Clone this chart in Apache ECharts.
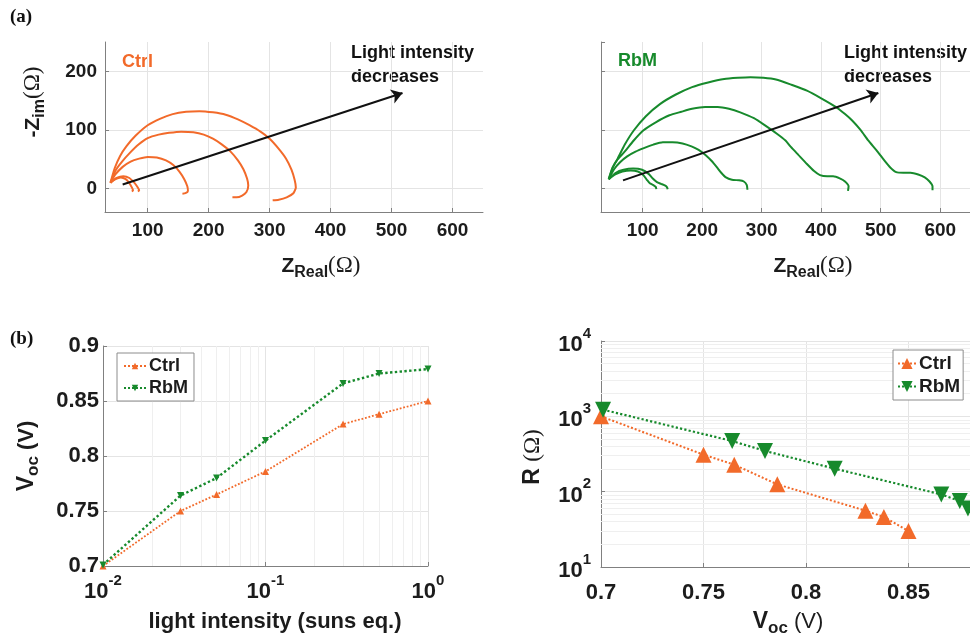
<!DOCTYPE html>
<html lang="en">
<head>
<meta charset="UTF-8">
<title>Nyquist / Voc / R</title>
<script src="https://cdn.jsdelivr.net/npm/echarts@6/dist/echarts.min.js"></script>
<style>
    html, body { margin: 0; padding: 0; background: #fff; }
    #chart { width: 970px; height: 639px; }
</style>
</head>
<body>
<div id="chart"></div>
<script>
    // (a) Nyquist curves, [Z_real, -Z_im] in ohm
    var ctrlZ1 = [[39,10],[47,16],[56,19],[64,16],[70,9],[74,2],[76,-3],[74,-5]];
    var ctrlZ2 = [[39,10],[49,18],[60,21],[70,18],[78,10],[83,3],[86,-3],[84,-5]];
    var ctrlZ3 = [[39,10],[47,24],[59,37],[72,46],[86,51],[100,54],[115,53],[130,48],[142,40],[152,29],[160,16],[165,4],[166,-4],[162,-8],[157,-9]];
    var ctrlZ4 = [[39,10],[48,32],[58,46],[70,60],[85,75],[100,86],[118,92],[135,95],[155,97],[175,96],[192,92],[207,85],[222,75],[236,63],[248,48],[257,33],[263,17],[265,5],[262,-6],[255,-12],[246,-15],[239,-15]];
    var ctrlZ5 = [[39,10],[46,35],[55,56],[65,72],[80,90],[100,108],[120,119],[141,127],[163,131],[185,132],[207,130],[228,126],[248,118],[267,108],[285,97],[300,85],[314,69],[327,51],[336,32],[341,15],[343,2],[339,-8],[328,-15],[315,-19],[305,-20]];

    var rbmZ1 = [[43,16],[54,24],[66,29],[80,31],[92,29],[101,23],[107,15],[112,9],[118,6],[122,3],[123,-1]];
    var rbmZ2 = [[43,16],[55,27],[68,32],[84,34],[99,32],[110,25],[117,17],[124,11],[131,8],[138,5],[141,2],[142,-1]];
    var rbmZ3 = [[43,16],[52,33],[62,45],[74,55],[88,63],[102,69],[118,75],[134,79],[150,79],[167,77],[182,72],[194,66],[206,57],[216,47],[225,36],[232,27],[240,19],[250,15],[262,14],[270,12],[275,6],[276,-2]];
    var rbmZ4 = [[43,16],[50,36],[58,50],[69,62],[85,82],[101,99],[122,113],[145,125],[165,131],[183,136],[205,139],[226,139],[245,136],[264,130],[287,120],[308,106],[325,94],[340,82],[349,71],[362,57],[376,42],[388,30],[398,23],[410,21],[420,21],[432,17],[440,12],[446,4],[445,-4]];
    var rbmZ5 = [[43,16],[49,35],[58,51],[70,75],[85,99],[105,123],[129,144],[155,160],[183,173],[210,181],[237,187],[260,189],[281,190],[303,189],[324,186],[350,177],[376,167],[400,154],[425,139],[440,127],[452,116],[466,100],[479,82],[493,65],[506,48],[516,36],[526,28],[538,27],[550,27],[563,24],[574,19],[582,12],[587,4],[587,-3]];

    // "Light intensity decreases" arrows (start, end)
    var ctrlArrow = [[59,7],[518,163]];
    var rbmArrow = [[67,14],[496,163]];

    // (b) light intensity (suns eq.), Voc (V), R (ohm)
    var intensity = [0.01, 0.03, 0.05, 0.1, 0.3, 0.5, 1];
    var vocCtrl = [0.700, 0.750, 0.765, 0.786, 0.829, 0.838, 0.850];
    var vocRbM = [0.701, 0.764, 0.780, 0.814, 0.866, 0.875, 0.879];
    var rCtrl = [1000, 310, 228, 125, 56, 46, 30];
    var rRbM = [1225, 470, 347, 202, 92, 75, 60];

    // minor grid positions of the log axes
    var minorIntensity = [0.02,0.03,0.04,0.05,0.06,0.07,0.08,0.09,0.2,0.3,0.4,0.5,0.6,0.7,0.8,0.9];
    var minorR = [20,30,40,50,60,70,80,90,200,300,400,500,600,700,800,900,2000,3000,4000,5000,6000,7000,8000,9000];

    var ORANGE = '#f26a2a';
    var GREEN = '#178a2c';
    var SANS = 'Liberation Sans, Arial, Helvetica, sans-serif';
    var SERIF = 'Liberation Serif, Times New Roman, serif';
    var GRIDC = '#e4e4e4';
    var AXISC = '#808080';
    var TXT = '#1c1c1c';

    var myChart = echarts.init(document.getElementById('chart'));

    function axisBase(grid, size) {
        return {
            gridIndex: grid,
            axisLine: { show: true, onZero: false, lineStyle: { color: AXISC, width: 1 } },
            axisTick: { show: true, inside: true, length: 4, lineStyle: { color: AXISC } },
            splitLine: { show: true, lineStyle: { color: GRIDC, width: 1 } },
            axisLabel: { color: TXT, fontFamily: SANS, fontWeight: 'bold', fontSize: size }
        };
    }
    function ext(a, b) {
        for (var k in b) {
            if (typeof b[k] === 'object' && !Array.isArray(b[k]) && a[k]) ext(a[k], b[k]);
            else a[k] = b[k];
        }
        return a;
    }

    var powRich = {
        b: { fontFamily: SANS, fontWeight: 'bold', fontSize: 22, lineHeight: 30, verticalAlign: 'bottom', color: TXT },
        p: { fontFamily: SANS, fontWeight: 'bold', fontSize: 15, lineHeight: 30, verticalAlign: 'top', color: TXT }
    };
    function powLabel(v) {
        var e = Math.round(Math.log(v) / Math.LN10);
        return '{b|10}{p|' + e + '}';
    }

    var xAxes = [
        ext(axisBase(0, 19), { type: 'value', min: 30, max: 650, minInterval: 100, maxInterval: 100,
            splitLine: { showMaxLine: false }, axisLabel: { margin: 9, showMinLabel: false, showMaxLabel: false } }),
        ext(axisBase(1, 19), { type: 'value', min: 30, max: 650, minInterval: 100, maxInterval: 100,
            splitLine: { showMaxLine: false }, axisLabel: { margin: 9, showMinLabel: false, showMaxLabel: false } }),
        ext(axisBase(2, 22), { type: 'log', logBase: 10, min: 0.01, max: 1,
            axisLabel: { margin: 7, formatter: powLabel, rich: powRich } }),
        ext(axisBase(3, 22), { type: 'value', min: 0.7, max: 0.88, interval: 0.05,
            axisLabel: { margin: 15, showMaxLabel: false } })
    ];
    var yAxes = [
        ext(axisBase(0, 19), { type: 'value', min: -40, max: 250, minInterval: 100, maxInterval: 100,
            splitLine: { showMaxLine: false }, axisLabel: { margin: 8, showMinLabel: false, showMaxLabel: false } }),
        ext(axisBase(1, 19), { type: 'value', min: -40, max: 250, minInterval: 100, maxInterval: 100,
            splitLine: { showMaxLine: false }, axisLabel: { show: false } }),
        ext(axisBase(2, 22), { type: 'value', min: 0.7, max: 0.9, interval: 0.05,
            axisLabel: { margin: 4 } }),
        ext(axisBase(3, 22), { type: 'log', logBase: 10, min: 10, max: 10000,
            axisLabel: { margin: 10, formatter: powLabel, rich: powRich } })
    ];

    function nyq(name, data, idx, color, arrow) {
        var s = {
            name: name, type: 'line', xAxisIndex: idx, yAxisIndex: idx,
            data: data, smooth: 0.2, showSymbol: false, z: 3,
            lineStyle: { color: color, width: 2 }, itemStyle: { color: color }
        };
        if (arrow) {
            s.markLine = {
                silent: true, symbol: ['none', 'arrow'], symbolSize: 11, z: 6,
                label: { show: false },
                lineStyle: { color: '#111', width: 2, type: 'solid' },
                data: [[{ coord: arrow[0] }, { coord: arrow[1] }]]
            };
        }
        return s;
    }

    function minorLines(key, values) {
        return {
            silent: true, symbol: 'none', z: 1, animation: false,
            label: { show: false },
            lineStyle: { color: '#efefef', width: 1, type: 'solid' },
            data: values.map(function (v) { var o = {}; o[key] = v; return o; })
        };
    }

    var series = [
        nyq('Ctrl Z1', ctrlZ1, 0, ORANGE),
        nyq('Ctrl Z2', ctrlZ2, 0, ORANGE),
        nyq('Ctrl Z3', ctrlZ3, 0, ORANGE),
        nyq('Ctrl Z4', ctrlZ4, 0, ORANGE),
        nyq('Ctrl Z5', ctrlZ5, 0, ORANGE, ctrlArrow),
        nyq('RbM Z1', rbmZ1, 1, GREEN),
        nyq('RbM Z2', rbmZ2, 1, GREEN),
        nyq('RbM Z3', rbmZ3, 1, GREEN),
        nyq('RbM Z4', rbmZ4, 1, GREEN),
        nyq('RbM Z5', rbmZ5, 1, GREEN, rbmArrow),
        {
            name: 'Ctrl', type: 'line', xAxisIndex: 2, yAxisIndex: 2, z: 3,
            data: intensity.map(function (x, i) { return [x, vocCtrl[i]]; }),
            symbol: 'triangle', symbolSize: 7,
            lineStyle: { color: ORANGE, width: 1.8, type: 'dotted' },
            itemStyle: { color: ORANGE },
            markLine: minorLines('xAxis', minorIntensity)
        },
        {
            name: 'RbM', type: 'line', xAxisIndex: 2, yAxisIndex: 2, z: 3,
            data: intensity.map(function (x, i) { return [x, vocRbM[i]]; }),
            symbol: 'triangle', symbolRotate: 180, symbolSize: 7,
            lineStyle: { color: GREEN, width: 2.4, type: 'dotted' },
            itemStyle: { color: GREEN }
        },
        {
            name: 'Ctrl (R)', type: 'line', xAxisIndex: 3, yAxisIndex: 3, z: 3,
            data: vocCtrl.map(function (x, i) { return [x, rCtrl[i]]; }),
            symbol: 'triangle', symbolSize: 16,
            lineStyle: { color: ORANGE, width: 2, type: 'dotted' },
            itemStyle: { color: ORANGE },
            markLine: minorLines('yAxis', minorR)
        },
        {
            name: 'RbM (R)', type: 'line', xAxisIndex: 3, yAxisIndex: 3, z: 3,
            data: vocRbM.map(function (x, i) { return [x, rRbM[i]]; }),
            symbol: 'triangle', symbolRotate: 180, symbolSize: 16,
            lineStyle: { color: GREEN, width: 2.2, type: 'dotted' },
            itemStyle: { color: GREEN }
        }
    ];

    function legendAt(left, top, names, iw, ih, fs, pad) {
        return {
            data: names, left: left, top: top, orient: 'vertical',
            itemWidth: iw, itemHeight: ih, itemGap: 4, padding: pad,
            backgroundColor: '#fff', borderColor: '#8c8c8c', borderWidth: 1, borderRadius: 0,
            selectedMode: false,
            textStyle: { color: TXT, fontFamily: SANS, fontWeight: 'bold', fontSize: fs, padding: [0, 0, 0, -2] },
            formatter: function (n) { return n.replace(' (R)', ''); }
        };
    }

    function txt(x, y, text, font, color) {
        return {
            type: 'text', x: x, y: y, silent: true,
            style: { text: text, font: font, fill: color, textAlign: 'left', textVerticalAlign: 'top' }
        };
    }
    function richTitle(x, y, text, rich, rot) {
        return {
            type: 'text', x: x, y: y, rotation: rot || 0, silent: true,
            style: { text: text, x: 0, y: 0, textAlign: 'center', textVerticalAlign: 'middle', rich: rich, fill: TXT }
        };
    }
    var zRich = {
        z: { fontFamily: SANS, fontWeight: 'bold', fontSize: 21, lineHeight: 30, verticalAlign: 'middle', fill: TXT },
        s: { fontFamily: SANS, fontWeight: 'bold', fontSize: 16, lineHeight: 30, verticalAlign: 'bottom', fill: TXT },
        o: { fontFamily: SERIF, fontSize: 23, lineHeight: 30, verticalAlign: 'middle', fill: TXT }
    };
    var vRich = {
        z: { fontFamily: SANS, fontWeight: 'bold', fontSize: 23, lineHeight: 30, verticalAlign: 'middle', fill: TXT },
        s: { fontFamily: SANS, fontWeight: 'bold', fontSize: 17, lineHeight: 30, verticalAlign: 'bottom', fill: TXT },
        o: { fontFamily: SANS, fontWeight: 'bold', fontSize: 22, lineHeight: 30, verticalAlign: 'middle', fill: TXT }
    };
    var v2Rich = {
        z: { fontFamily: SANS, fontWeight: 'bold', fontSize: 23, lineHeight: 30, verticalAlign: 'middle', fill: TXT },
        s: { fontFamily: SANS, fontWeight: 'bold', fontSize: 17, lineHeight: 30, verticalAlign: 'bottom', fill: TXT },
        o: { fontFamily: SANS, fontSize: 22, lineHeight: 30, verticalAlign: 'middle', fill: TXT },
        r: { fontFamily: SANS, fontWeight: 'bold', fontSize: 23, lineHeight: 30, verticalAlign: 'middle', fill: TXT },
        w: { fontFamily: SERIF, fontSize: 23, lineHeight: 30, verticalAlign: 'middle', fill: TXT }
    };

    var ann = 'bold 18px ' + SANS;
    var option = {
        animation: false,
        backgroundColor: '#fff',
        grid: [
            { left: 105, top: 42, width: 378, height: 170 },
            { left: 601, top: 42, width: 380, height: 170 },
            { left: 103, top: 346, width: 325, height: 220 },
            { left: 601, top: 341, width: 381, height: 226 }
        ],
        xAxis: xAxes,
        yAxis: yAxes,
        legend: [
            legendAt(117, 353, ['Ctrl', 'RbM'], 22, 8, 18, [4, 6, 4, 6]),
            legendAt(893, 350, ['Ctrl (R)', 'RbM (R)'], 18, 14, 19, [4, 3, 4, 4])
        ],
        series: series,
        graphic: [
            txt(10, 8, '(a)', 'bold 19px ' + SERIF, '#111'),
            txt(10, 330, '(b)', 'bold 19px ' + SERIF, '#111'),
            txt(122, 53, 'Ctrl', ann, ORANGE),
            txt(618, 52, 'RbM', ann, GREEN),
            txt(351, 44, 'Light intensity', ann, '#111'),
            txt(351, 68, 'decreases', ann, '#111'),
            txt(844, 44, 'Light intensity', ann, '#111'),
            txt(844, 68, 'decreases', ann, '#111'),
            richTitle(321, 266, '{z|Z}{s|Real}{o|(Ω)}', zRich),
            richTitle(813, 266, '{z|Z}{s|Real}{o|(Ω)}', zRich),
            richTitle(33, 102, '{z|-Z}{s|im}{o|(Ω)}', zRich, Math.PI / 2),
            txt(275, 622, 'light intensity (suns eq.)', 'bold 22px ' + SANS, TXT),
            richTitle(27, 456, '{z|V}{s|oc}{o| (V)}', vRich, Math.PI / 2),
            richTitle(533, 457, '{r|R }{w|(Ω)}', v2Rich, Math.PI / 2),
            richTitle(788, 622, '{z|V}{s|oc}{o| (V)}', v2Rich)
        ]
    };
    option.graphic[11].style.textAlign = 'center';
    option.graphic[11].style.textVerticalAlign = 'middle';

    myChart.setOption(option);
</script>
</body>
</html>
